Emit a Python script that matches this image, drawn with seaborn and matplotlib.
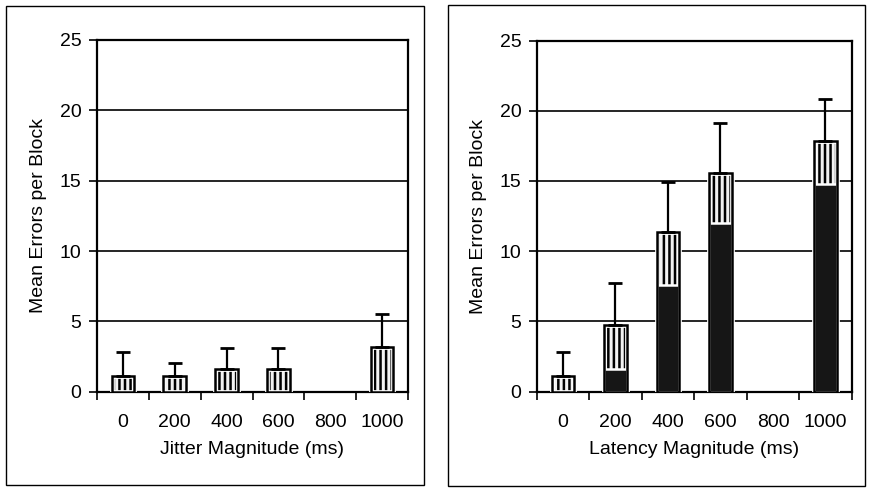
import numpy as np
import pandas as pd
import matplotlib
matplotlib.use("Agg")
import matplotlib.pyplot as plt
import seaborn as sns
from matplotlib.patches import Rectangle

# ---------------- data ----------------
magnitudes = ["0", "200", "400", "600", "800", "1000"]
jitter_mean = [1.1, 1.1, 1.6, 1.6, np.nan, 3.2]
jitter_dark = [0.0, 0.0, 0.0, 0.0, np.nan, 0.0]
jitter_err_top = [2.8, 2.05, 3.1, 3.1, np.nan, 5.55]
latency_mean = [1.1, 4.75, 11.35, 15.55, np.nan, 17.85]
latency_dark = [0.0, 1.6, 7.6, 12.0, np.nan, 14.8]
latency_err_top = [2.8, 7.75, 14.9, 19.15, np.nan, 20.85]
y_ticks = [0, 5, 10, 15, 20, 25]
y_label = "Mean Errors per Block"
x_label_left = "Jitter Magnitude (ms)"
x_label_right = "Latency Magnitude (ms)"

sns.set_style("white")
plt.rcParams["font.family"] = ["Liberation Sans", "DejaVu Sans"]
plt.rcParams["hatch.linewidth"] = 1.8
plt.rcParams["hatch.color"] = "black"

fig = plt.figure(figsize=(8.7, 4.88), dpi=100)
W, H = 870.0, 488.0


def px_axes(x0, y0, x1, y1):
    return fig.add_axes([x0 / W, 1 - y1 / H, (x1 - x0) / W, (y1 - y0) / H])


def panel(ax, mean, dark, errtop, xlabel):
    df = pd.DataFrame({"mag": magnitudes, "mean": mean, "dark": dark})
    bw = 0.43
    # light hatched full bar
    sns.barplot(data=df, x="mag", y="mean", order=magnitudes, ax=ax,
                color="#f2f2f2", saturation=1, width=bw, errorbar=None,
                edgecolor="black", linewidth=0, hatch="|||", zorder=2)
    # inner white outline
    sns.barplot(data=df, x="mag", y="mean", order=magnitudes, ax=ax,
                fill=False, width=bw, errorbar=None,
                edgecolor="white", linewidth=3.4, zorder=3)
    # dark lower segment
    sns.barplot(data=df, x="mag", y="dark", order=magnitudes, ax=ax,
                color="#161616", saturation=1, width=bw, errorbar=None,
                edgecolor="white", linewidth=1.8, zorder=4)
    # outer black outline
    sns.barplot(data=df, x="mag", y="mean", order=magnitudes, ax=ax,
                fill=False, width=bw, errorbar=None,
                edgecolor="black", linewidth=1.8, zorder=5)
    m = np.array(mean, dtype=float)
    e = np.array(errtop, dtype=float)
    xs = np.arange(len(magnitudes))
    ax.errorbar(xs, m, yerr=[np.zeros_like(m), e - m], fmt="none",
                ecolor="black", elinewidth=1.6, capsize=5, capthick=2.0,
                zorder=6)

    ax.set_xlim(-0.5, len(magnitudes) - 0.5)
    ax.set_ylim(0, 25)
    ax.set_yticks(y_ticks)
    ax.set_xticks(xs)
    ax.set_xticklabels(magnitudes)
    ax.set_xticks(np.arange(len(magnitudes) + 1) - 0.5, minor=True)
    ax.tick_params(axis="x", which="major", length=0, pad=16, labelsize=14,
                   colors="black")
    ax.tick_params(axis="x", which="minor", length=6, width=1.2,
                   direction="out", color="black", bottom=True)
    ax.tick_params(axis="y", which="major", length=6, width=1.2,
                   direction="out", pad=5, labelsize=14, colors="black",
                   left=True)
    ax.yaxis.grid(True, color="black", linewidth=1.2)
    ax.xaxis.grid(False)
    ax.set_axisbelow(True)
    for s in ax.spines.values():
        s.set_visible(True)
        s.set_color("black")
        s.set_linewidth(1.6)
    ax.set_xlabel(xlabel, fontsize=14, labelpad=7, color="black")
    ax.set_ylabel(y_label, fontsize=14, labelpad=9, color="black")


ax1 = px_axes(96.7, 40, 408.3, 391.7)
ax2 = px_axes(536.7, 40.5, 851.7, 391.7)
panel(ax1, jitter_mean, jitter_dark, jitter_err_top, x_label_left)
panel(ax2, latency_mean, latency_dark, latency_err_top, x_label_right)

# outer frames around each panel
for (x0, y0, x1, y1) in [(6, 6, 424, 485), (448, 5, 865, 486)]:
    fig.patches.append(Rectangle((x0 / W, 1 - y1 / H), (x1 - x0) / W,
                                 (y1 - y0) / H, transform=fig.transFigure,
                                 fill=False, edgecolor="black", linewidth=1.0))

fig.savefig("out.png", dpi=100)
